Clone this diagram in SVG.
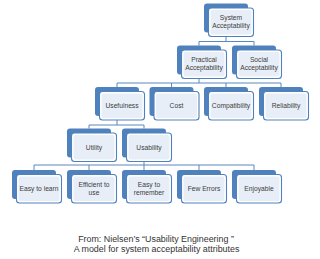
<svg xmlns="http://www.w3.org/2000/svg" width="320" height="259" viewBox="0 0 320 259">
<style>
.bk{fill:#4f81bd;}
.fr{fill:#ffffff;stroke:#4f81bd;stroke-width:1.1;}
.in{fill:#e8eef7;}
.t{font-family:"Liberation Sans",Arial,sans-serif;font-size:6.7px;fill:#3c3c3c;text-anchor:middle;}
.cap{font-family:"Liberation Sans",Arial,sans-serif;font-size:8.9px;fill:#333333;text-anchor:middle;}
.c{fill:none;stroke:#5b87c1;stroke-width:1;}
</style>
<rect width="320" height="259" fill="#ffffff"/>
<g id="connectors">
<path class="c" d="M226 37V41.5M199 45.5V41.5H254V45.5"/>
<path class="c" d="M199 78.5V83M117 87V83H281V87M171.5 83V87M226 83V87"/>
<path class="c" d="M117 120V125M89 128.5V125H144V128.5"/>
<path class="c" d="M144 161.5V165M34 170V165H254V170M89 165V170M144 165V170M199 165V170"/>
</g>
<g id="system">
<rect class="bk" x="204" y="3.5" width="44" height="29" rx="3"/>
<rect class="fr" x="208.5" y="8" width="45" height="28.5" rx="3"/>
<rect class="in" x="210.5" y="10" width="41" height="24.5" rx="2"/>
<text class="t" x="231" y="20">System</text>
<text class="t" x="231" y="28">Acceptability</text>
</g>
<g id="practical">
<rect class="bk" x="177" y="45.5" width="44" height="29" rx="3"/>
<rect class="fr" x="181.5" y="50" width="45" height="28.5" rx="3"/>
<rect class="in" x="183.5" y="52" width="41" height="24.5" rx="2"/>
<text class="t" x="204" y="62">Practical</text>
<text class="t" x="204" y="70">Acceptability</text>
</g>
<g id="social">
<rect class="bk" x="232" y="45.5" width="44" height="29" rx="3"/>
<rect class="fr" x="236.5" y="50" width="45" height="28.5" rx="3"/>
<rect class="in" x="238.5" y="52" width="41" height="24.5" rx="2"/>
<text class="t" x="259" y="62">Social</text>
<text class="t" x="259" y="70">Acceptability</text>
</g>
<g id="usefulness">
<rect class="bk" x="95" y="87" width="44" height="29" rx="3"/>
<rect class="fr" x="99.5" y="91.5" width="45" height="28.5" rx="3"/>
<rect class="in" x="101.5" y="93.5" width="41" height="24.5" rx="2"/>
<text class="t" x="122" y="108">Usefulness</text>
</g>
<g id="cost">
<rect class="bk" x="149.5" y="87" width="44" height="29" rx="3"/>
<rect class="fr" x="154" y="91.5" width="45" height="28.5" rx="3"/>
<rect class="in" x="156" y="93.5" width="41" height="24.5" rx="2"/>
<text class="t" x="176.5" y="108">Cost</text>
</g>
<g id="compatibility">
<rect class="bk" x="204" y="87" width="44" height="29" rx="3"/>
<rect class="fr" x="208.5" y="91.5" width="45" height="28.5" rx="3"/>
<rect class="in" x="210.5" y="93.5" width="41" height="24.5" rx="2"/>
<text class="t" x="231" y="108">Compatibility</text>
</g>
<g id="reliability">
<rect class="bk" x="259" y="87" width="44" height="29" rx="3"/>
<rect class="fr" x="263.5" y="91.5" width="45" height="28.5" rx="3"/>
<rect class="in" x="265.5" y="93.5" width="41" height="24.5" rx="2"/>
<text class="t" x="286" y="108">Reliability</text>
</g>
<g id="utility">
<rect class="bk" x="67" y="128.5" width="44" height="29" rx="3"/>
<rect class="fr" x="71.5" y="133" width="45" height="28.5" rx="3"/>
<rect class="in" x="73.5" y="135" width="41" height="24.5" rx="2"/>
<text class="t" x="94" y="149.5">Utility</text>
</g>
<g id="usability">
<rect class="bk" x="122" y="128.5" width="44" height="29" rx="3"/>
<rect class="fr" x="126.5" y="133" width="45" height="28.5" rx="3"/>
<rect class="in" x="128.5" y="135" width="41" height="24.5" rx="2"/>
<text class="t" x="149" y="149.5">Usability</text>
</g>
<g id="easy-to-learn">
<rect class="bk" x="12" y="170" width="44" height="29" rx="3"/>
<rect class="fr" x="16.5" y="174.5" width="45" height="28.5" rx="3"/>
<rect class="in" x="18.5" y="176.5" width="41" height="24.5" rx="2"/>
<text class="t" x="39" y="191">Easy to learn</text>
</g>
<g id="efficient">
<rect class="bk" x="67" y="170" width="44" height="29" rx="3"/>
<rect class="fr" x="71.5" y="174.5" width="45" height="28.5" rx="3"/>
<rect class="in" x="73.5" y="176.5" width="41" height="24.5" rx="2"/>
<text class="t" x="94" y="186.5">Efficient to</text>
<text class="t" x="94" y="194.5">use</text>
</g>
<g id="easy-to-remember">
<rect class="bk" x="122" y="170" width="44" height="29" rx="3"/>
<rect class="fr" x="126.5" y="174.5" width="45" height="28.5" rx="3"/>
<rect class="in" x="128.5" y="176.5" width="41" height="24.5" rx="2"/>
<text class="t" x="149" y="186.5">Easy to</text>
<text class="t" x="149" y="194.5">remember</text>
</g>
<g id="few-errors">
<rect class="bk" x="177" y="170" width="44" height="29" rx="3"/>
<rect class="fr" x="181.5" y="174.5" width="45" height="28.5" rx="3"/>
<rect class="in" x="183.5" y="176.5" width="41" height="24.5" rx="2"/>
<text class="t" x="204" y="191">Few Errors</text>
</g>
<g id="enjoyable">
<rect class="bk" x="232" y="170" width="44" height="29" rx="3"/>
<rect class="fr" x="236.5" y="174.5" width="45" height="28.5" rx="3"/>
<rect class="in" x="238.5" y="176.5" width="41" height="24.5" rx="2"/>
<text class="t" x="259" y="191">Enjoyable</text>
</g>
<g id="caption">
<text class="cap" x="156" y="241.5">From: Nielsen’s “Usability Engineering ”</text>
<text class="cap" x="156.5" y="252">A model for system acceptability attributes</text>
</g>
</svg>
